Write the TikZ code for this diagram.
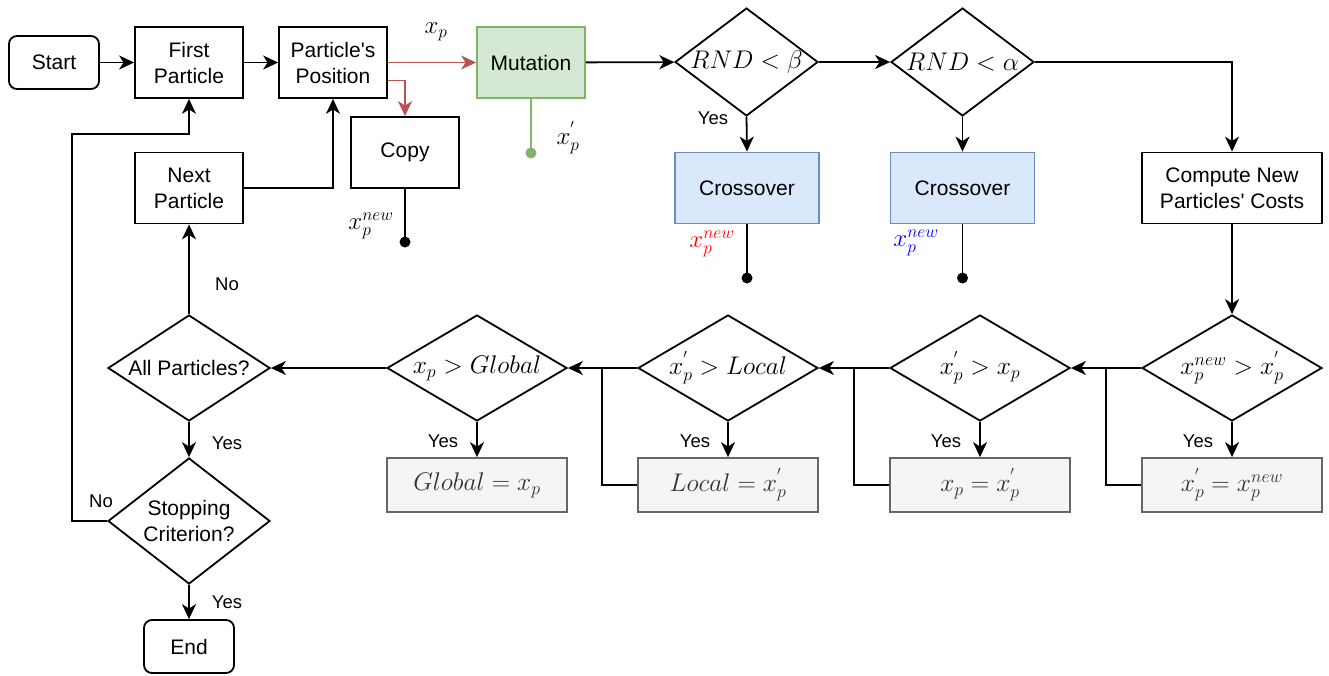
\RequirePackage{fix-cm}
\documentclass[tikz,border=0pt]{standalone}
\usepackage[no-math]{fontspec}
\setmainfont{Liberation Sans}[Ligatures=TeXOff]
\usetikzlibrary{shapes.geometric,arrows.meta}
\definecolor{redline}{HTML}{B85450}
\definecolor{mutfill}{HTML}{D5E8D4}
\definecolor{mutline}{HTML}{82B366}
\definecolor{crfill}{HTML}{DAE8FC}
\definecolor{crline}{HTML}{6C8EBF}
\definecolor{gfill}{HTML}{F5F5F5}
\definecolor{gline}{HTML}{666666}
\definecolor{gtext}{HTML}{333333}
\begin{document}
\begin{tikzpicture}[x=1pt,y=-1pt,
  every node/.style={font=\fontsize{21}{26}\selectfont},
  base/.style={draw,line width=1.8pt,inner sep=0pt,align=center},
  proc/.style={base,rectangle,minimum width=108pt,minimum height=71pt},
  term/.style={base,rounded corners=8pt,minimum width=90pt,minimum height=53pt},
  dec/.style={base,diamond},
  gbox/.style={base,rectangle,fill=gfill,draw=gline,text=gtext,minimum width=180pt,minimum height=54pt,font=\fontsize{25.5}{30}\selectfont},
  dmath/.style={font=\fontsize{25.5}{30}\selectfont},
  mlab/.style={font=\fontsize{25}{28}\selectfont,inner sep=0pt},
  lab/.style={font=\fontsize{18.5}{22}\selectfont,inner sep=0pt},
  ln/.style={line width=1.8pt},
  arr/.style={ln,-{Stealth[length=15pt,width=14pt,inset=4.5pt]}},
  dotc/.style={radius=5.5pt}
]
\useasboundingbox (0,0) rectangle (1329,675);

% top row
\node[term] (start) at (54,62.5) {Start};
\node[proc] (first) at (189,62.5) {First\\Particle};
\node[proc] (pos) at (333,62.5) {Particle's\\Position};
\node[proc,fill=mutfill,draw=mutline] (mut) at (531,62.5) {Mutation};
\node[proc] (copy) at (405,152.5) {Copy};
\node[dec,dmath,aspect=1.32,minimum width=143pt,minimum height=108pt] (rb) at (746.5,62) {$RND<\beta$};
\node[dec,dmath,aspect=1.32,minimum width=143pt,minimum height=108pt] (ra) at (962.5,62) {$RND<\alpha$};
\node[proc,fill=crfill,draw=crline,minimum width=144pt] (cx1) at (747,188) {Crossover};
\node[proc,fill=crfill,draw=crline,minimum width=144pt] (cx2) at (962.5,188) {Crossover};
\node[proc,minimum width=180pt] (comp) at (1232,188) {Compute New\\Particles' Costs};
\node[proc] (next) at (189,188) {Next\\Particle};

% bottom row
\node[dec,dmath,aspect=1.7,minimum width=180pt,minimum height=106pt] (d4) at (1232,368) {$x_p^{new}>x_p^{'}$};
\node[dec,dmath,aspect=1.7,minimum width=180pt,minimum height=106pt] (d3) at (980,368) {$x_p^{'}>x_p$};
\node[dec,dmath,aspect=1.7,minimum width=180pt,minimum height=106pt] (d2) at (728,368) {$x_p^{'}>Local$};
\node[dec,dmath,aspect=1.7,minimum width=180pt,minimum height=106pt] (d1) at (477,368) {$x_p>Global$};
\node[gbox] (b4) at (1232,485) {$x_p^{'}=x_p^{new}$};
\node[gbox] (b3) at (980,485) {$x_p=x_p^{'}$};
\node[gbox] (b2) at (728,485) {$Local=x_p^{'}$};
\node[gbox] (b1) at (477,485) {$Global=x_p$};
\node[dec,aspect=1.53,minimum width=162pt,minimum height=106pt] (allp) at (189,368) {All Particles?};
\node[dec,aspect=1.29,minimum width=162pt,minimum height=126pt] (stop) at (189,521) {Stopping\\Criterion?};
\node[term] (end) at (189,646.5) {End};

% coordinates
\coordinate (cdot) at (405,242);
\coordinate (mdot) at (531,153);
\coordinate (x1dot) at (747,278);
\coordinate (x2dot) at (962.5,278);
\coordinate (j4) at (1106,368);
\coordinate (j3) at (854,368);
\coordinate (j2) at (602,368);
\coordinate (lp) at (72,134);

% connectors
\draw[arr] (start) -- (first);
\draw[arr] (first) -- (pos);
\draw[arr,color=redline] (pos.east) -- (mut.west);
\draw[arr,color=redline] ([yshift=-18pt]pos.east) -| (copy.north);
\draw[ln] (copy.south) -- (cdot);
\fill (cdot) circle[dotc];
\draw[ln,color=mutline] (mut.south) -- (mdot);
\fill[mutline] (mdot) circle[dotc];
\draw[arr] (mut) -- (rb);
\draw[arr] (rb) -- (ra);
\draw[arr] (rb.south) -- (cx1.north);
\draw[arr] (ra.south) -- (cx2.north);
\draw[ln] (cx1.south) -- (x1dot);
\fill (x1dot) circle[dotc];
\draw[ln] (cx2.south) -- (x2dot);
\fill (x2dot) circle[dotc];
\draw[arr] (ra.east) -| (comp.north);
\draw[arr] (comp.south) -- (d4.north);
\draw[arr] (d4.south) -- (b4.north);
\draw[arr] (d3.south) -- (b3.north);
\draw[arr] (d2.south) -- (b2.north);
\draw[arr] (d1.south) -- (b1.north);
\draw[arr] (d4.west) -- (d3.east);
\draw[arr] (d3.west) -- (d2.east);
\draw[arr] (d2.west) -- (d1.east);
\draw[ln] (b4.west) -| (j4);
\draw[ln] (b3.west) -| (j3);
\draw[ln] (b2.west) -| (j2);
\draw[arr] (d1.west) -- (allp.east);
\draw[arr] (allp.south) -- (stop.north);
\draw[arr] (stop.south) -- (end.north);
\draw[arr] (allp.north) -- (next.south);
\draw[arr] (next.east) -| (pos.south);
\draw[arr] (stop.west) -| (lp) -| (first.south);

% labels
\node[mlab] (lxp) at (436,32) {$x_p$};
\node[mlab] (lxpn) at (371,226) {$x_p^{new}$};
\node[mlab] (lxpp) at (568,138) {$x_p^{'}$};
\node[mlab,text=red] (lxr) at (712,244) {$x_p^{new}$};
\node[mlab,text=blue] (lxb) at (916,243) {$x_p^{new}$};
\node[lab] (y1) at (713,118) {Yes};
\node[lab] (y4) at (1198,441) {Yes};
\node[lab] (y3) at (946,441) {Yes};
\node[lab] (y2) at (695,441) {Yes};
\node[lab] (y0) at (443,441) {Yes};
\node[lab] (ya) at (227,443) {Yes};
\node[lab] (ys) at (227,602) {Yes};
\node[lab] (na) at (227,284) {No};
\node[lab] (ns) at (101,501) {No};
\end{tikzpicture}
\end{document}
